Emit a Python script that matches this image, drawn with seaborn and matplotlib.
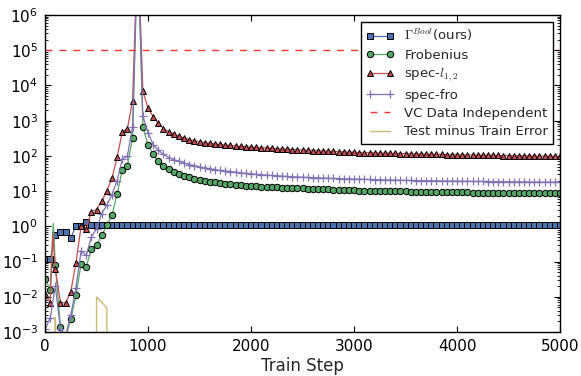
import matplotlib
matplotlib.use("Agg")
import matplotlib.pyplot as plt
from matplotlib.ticker import LogLocator, NullFormatter, FixedLocator
import pandas as pd
import seaborn as sns

# ---------------- data ----------------
steps = list(range(0, 5001, 50))

gamma_bool = [
    0.115, 0.115, 0.58, 0.68, 0.68, 0.46, 1.05, 1.05, 1.35,      # 0..400
    1.1, 1.1,                                                    # 450..500
    1.1, 1.1, 1.1, 1.1, 1.1, 1.1, 1.1, 1.1, 1.1, 1.1,            # 550..1000
    1.1, 1.1, 1.1, 1.1, 1.1, 1.1, 1.1, 1.1, 1.1, 1.1,            # 1050..1500
    1.1, 1.1, 1.1, 1.1, 1.1, 1.1, 1.1, 1.1, 1.1, 1.1,            # 1550..2000
    1.1, 1.1, 1.1, 1.1, 1.1, 1.1, 1.1, 1.1, 1.1, 1.1,            # 2050..2500
    1.1, 1.1, 1.1, 1.1, 1.1, 1.1, 1.1, 1.1, 1.1, 1.1,            # 2550..3000
    1.1, 1.1, 1.1, 1.1, 1.1, 1.1, 1.1, 1.1, 1.1, 1.1,            # 3050..3500
    1.1, 1.1, 1.1, 1.1, 1.1, 1.1, 1.1, 1.1, 1.1, 1.1,            # 3550..4000
    1.1, 1.1, 1.1, 1.1, 1.1, 1.1, 1.1, 1.1, 1.1, 1.1,            # 4050..4500
    1.1, 1.1, 1.1, 1.1, 1.1, 1.1, 1.1, 1.1, 1.1, 1.1,            # 4550..5000
]

frobenius = [
    0.033, 0.016, 0.078, 0.00135, 0.0007, 0.0023, 0.011, 0.085, 0.071,  # 0..400
    0.23, 0.3, 0.55, 1.07, 2.1, 8.3, 41, 53, 330, 1e8,                # 450..900
    650, 205, 110, 71, 53, 42, 36, 30.5, 27, 24.5, 22.3, 20.4,         # 950..1500
    19.3, 18.4, 17.6, 16.9, 16.3, 15.7, 15.1, 14.6, 14.2, 13.8,        # 1550..2000
    13.6, 13.4, 13.2, 13.0, 12.8, 12.6, 12.4, 12.3, 12.1, 12.0,        # 2050..2500
    11.8, 11.7, 11.5, 11.3, 11.2, 11.0, 10.9, 10.8, 10.6, 10.5,        # 2550..3000
    10.4, 10.3, 10.2, 10.2, 10.1, 10.0, 9.9, 9.9, 9.8, 9.8,            # 3050..3500
    9.7, 9.7, 9.6, 9.6, 9.5, 9.5, 9.4, 9.4, 9.3, 9.3,                  # 3550..4000
    9.2, 9.2, 9.1, 9.1, 9.0, 9.0, 9.0, 8.9, 8.9, 8.9,                  # 4050..4500
    8.8, 8.8, 8.8, 8.7, 8.7, 8.7, 8.6, 8.6, 8.6, 8.6,                  # 4550..5000
]

spec_l12 = [
    0.012, 0.0068, 0.063, 0.0068, 0.0068, 0.014, 0.091, 1.0, 0.82,     # 0..400
    2.6, 3.0, 5.2, 10.2, 23, 93, 480, 600, 3700, 1e8,                  # 450..900
    6900, 2240, 1300, 850, 600, 485, 420, 360, 320, 290, 268, 250,     # 950..1500
    238, 228, 219, 211, 204, 198, 192, 187, 182, 178,                  # 1550..2000
    174, 170, 167, 164, 161, 158, 155, 152, 149, 146,                  # 2050..2500
    144, 142, 140, 138, 136, 134, 132, 130, 128, 127,                  # 2550..3000
    125, 124, 123, 122, 121, 120, 119, 118, 117, 116,                  # 3050..3500
    115, 114, 113, 112, 111.5, 111, 110, 109.5, 109, 108,              # 3550..4000
    107.5, 107, 106, 105.5, 105, 104.5, 104, 103, 102.5, 102,          # 4050..4500
    101.5, 101, 100.5, 100, 99.5, 99, 98.5, 98, 97.5, 97,              # 4550..5000
]

spec_fro = [
    0.0012, 0.0025, 0.02, 0.0012, 0.0008, 0.003, 0.018, 0.2, 0.15,     # 0..400
    0.5, 0.85, 2.3, 4.0, 8.0, 20, 80, 100, 680, 1e8,                   # 450..900
    1350, 450, 210, 145, 110, 90, 78, 70, 63, 57, 53, 49,              # 950..1500
    46, 43.5, 41, 39, 37.5, 36, 34.5, 33, 32, 31,                      # 1550..2000
    30, 29.2, 28.5, 27.8, 27.2, 26.6, 26.1, 25.6, 25.2, 24.8,          # 2050..2500
    24.4, 24.1, 23.8, 23.5, 23.2, 22.9, 22.6, 22.4, 22.2, 22.0,        # 2550..3000
    21.8, 21.6, 21.4, 21.2, 21.0, 20.8, 20.7, 20.5, 20.4, 20.2,        # 3050..3500
    20.1, 20.0, 19.9, 19.8, 19.7, 19.6, 19.5, 19.4, 19.3, 19.2,        # 3550..4000
    19.1, 19.0, 18.9, 18.8, 18.8, 18.7, 18.6, 18.6, 18.5, 18.4,        # 4050..4500
    18.4, 18.3, 18.2, 18.2, 18.1, 18.1, 18.0, 18.0, 17.9, 17.9,        # 4550..5000
]

# extra line-only points (spikes between markers)
frob_spike_steps = [80]
frob_spike_vals = [1.2]
l12_spike_steps = [75]
l12_spike_vals = [0.6]

# test minus train error (mostly zero -> below axis)
gap_steps = [0, 50, 100, 150, 450, 500, 550, 600, 650, 5000]
gap_vals = [0, 0, 0.0026, 0, 0, 0.0098, 0.007, 0.0048, 0, 0]

vc_bound = 1e5

labels = [r"$\Gamma^{Bool}$(ours)", "Frobenius", r"spec-$l_{1,2}$",
          "spec-fro", "VC Data Independent", "Test minus Train Error"]
xticks = [0, 1000, 2000, 3000, 4000, 5000]

for arr in (gamma_bool, frobenius, spec_l12, spec_fro):
    assert len(arr) == len(steps), len(arr)

# ---------------- style ----------------
sns.set_style("ticks")
plt.rcParams.update({
    "font.family": ["DejaVu Sans"],
    "mathtext.fontset": "cm",
    "xtick.direction": "in",
    "ytick.direction": "in",
    "xtick.top": True,
    "ytick.right": True,
    "xtick.major.size": 4,
    "ytick.major.size": 4,
    "ytick.minor.size": 2,
    "xtick.major.width": 0.8,
    "ytick.major.width": 0.8,
    "ytick.minor.width": 0.6,
    "axes.edgecolor": "black",
    "axes.linewidth": 1.0,
    "xtick.color": "black",
    "ytick.color": "black",
})

fig = plt.figure(figsize=(5.81, 3.76), dpi=100)
ax = fig.add_axes([0.0775, 0.117, 0.8865, 0.843])


def build(base_steps, base_vals, extra_steps=(), extra_vals=()):
    df = pd.DataFrame({
        "step": list(base_steps) + list(extra_steps),
        "val": list(base_vals) + list(extra_vals),
        "mk": [True] * len(base_steps) + [False] * len(extra_steps),
    })
    df = df.sort_values("step", kind="stable").reset_index(drop=True)
    return df, [int(i) for i in df.index[df["mk"]]]


blue, green, red, purple, tan = "#4c72b0", "#55a868", "#c44e52", "#8172b2", "#ccb974"

df, me = build(steps, gamma_bool)
sns.lineplot(data=df, x="step", y="val", ax=ax, estimator=None, errorbar=None,
             color=blue, lw=0.9, marker="s", markersize=4.3, markevery=me,
             markerfacecolor=blue, markeredgecolor="black", markeredgewidth=0.7,
             label=labels[0])

df, me = build(steps, frobenius, frob_spike_steps, frob_spike_vals)
sns.lineplot(data=df, x="step", y="val", ax=ax, estimator=None, errorbar=None,
             color=green, lw=0.9, marker="o", markersize=4.6, markevery=me,
             markerfacecolor=green, markeredgecolor="black", markeredgewidth=0.7,
             label=labels[1])

df, me = build(steps, spec_l12, l12_spike_steps, l12_spike_vals)
sns.lineplot(data=df, x="step", y="val", ax=ax, estimator=None, errorbar=None,
             color=red, lw=0.9, marker="^", markersize=5.0, markevery=me,
             markerfacecolor=red, markeredgecolor="black", markeredgewidth=0.7,
             label=labels[2])

df, me = build(steps, spec_fro)
sns.lineplot(data=df, x="step", y="val", ax=ax, estimator=None, errorbar=None,
             color=purple, lw=0.9, marker="+", markersize=5.5, markevery=me,
             markeredgecolor=purple, markeredgewidth=0.9,
             label=labels[3])

ax.axhline(vc_bound, color="#ff3333", lw=1.0, ls=(0, (5, 5)), label=labels[4])

df_gap = pd.DataFrame({"step": gap_steps, "val": gap_vals})
sns.lineplot(data=df_gap, x="step", y="val", ax=ax, estimator=None, errorbar=None,
             color=tan, lw=1.0, label=labels[5])

ax.set_yscale("log", nonpositive="clip")
ax.set_ylim(1e-3, 1e6)
ax.set_xlim(0, 5000)
ax.xaxis.set_major_locator(FixedLocator(xticks))
ax.yaxis.set_major_locator(LogLocator(base=10, numticks=20))
ax.yaxis.set_minor_locator(LogLocator(base=10, subs=range(2, 10), numticks=100))
ax.yaxis.set_minor_formatter(NullFormatter())
ax.tick_params(axis="both", which="major", labelsize=11, pad=5)
ax.set_xlabel("Train Step", fontsize=12, labelpad=2)
ax.set_ylabel(None)

leg = ax.legend(loc="upper right", fontsize=9.5, numpoints=2, handlelength=2.1,
                frameon=True, fancybox=False, framealpha=1, edgecolor="black",
                borderpad=0.4, labelspacing=0.4, handletextpad=0.8,
                borderaxespad=0.5)
leg.get_frame().set_linewidth(1.0)

fig.savefig("out.png", dpi=100)
